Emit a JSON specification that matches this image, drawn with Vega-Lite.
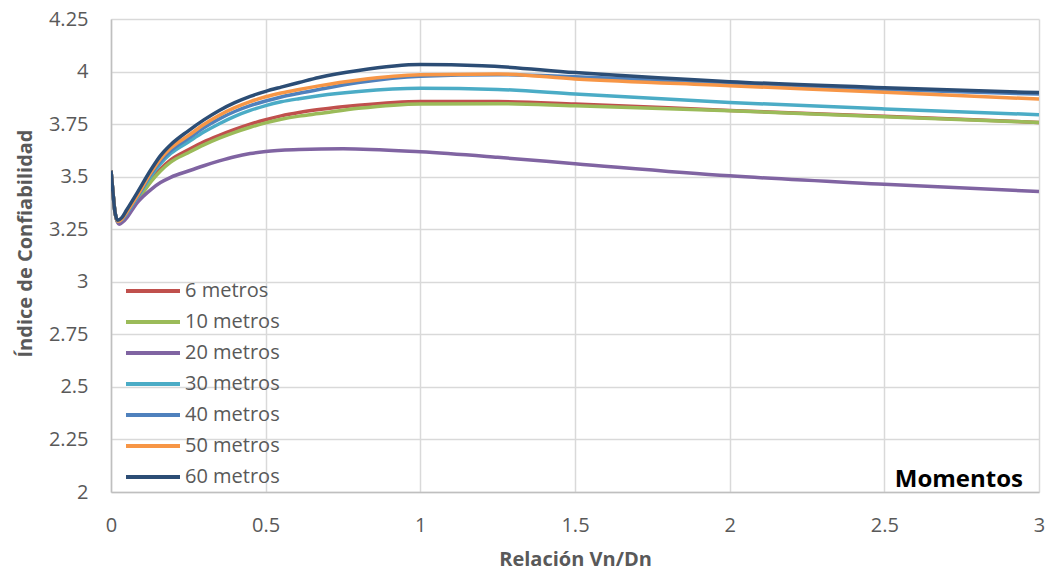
{
  "$schema": "https://vega.github.io/schema/vega-lite/v6.json",
  "width": 928,
  "height": 473,
  "autosize": {"type": "none"},
  "padding": {"left": 111, "top": 19, "right": 6, "bottom": 80},
  "background": "white",
  "config": {
    "view": {"stroke": null},
    "font": "Open Sans",
    "axis": {
      "labelFont": "Open Sans", "titleFont": "Open Sans",
      "labelColor": "#595959", "titleColor": "#595959",
      "labelFontSize": 20, "titleFontSize": 20, "titleFontWeight": "bold",
      "gridColor": "#d9d9d9", "gridWidth": 1.5,
      "domainColor": "#bfbfbf", "domainWidth": 1.5,
      "ticks": false, "labelFlush": false
    }
  },
  "datasets": {
    "curvas": [
      {"x":0,"y":3.528,"serie":"6 metros"},{"x":0.006,"y":3.43,"serie":"6 metros"},{"x":0.013,"y":3.33,"serie":"6 metros"},{"x":0.022,"y":3.285,"serie":"6 metros"},{"x":0.035,"y":3.292,"serie":"6 metros"},{"x":0.05,"y":3.318,"serie":"6 metros"},{"x":0.085,"y":3.39,"serie":"6 metros"},{"x":0.13,"y":3.49,"serie":"6 metros"},{"x":0.16,"y":3.537,"serie":"6 metros"},{"x":0.193,"y":3.58,"serie":"6 metros"},{"x":0.25,"y":3.628,"serie":"6 metros"},{"x":0.3,"y":3.666,"serie":"6 metros"},{"x":0.35,"y":3.697,"serie":"6 metros"},{"x":0.4,"y":3.725,"serie":"6 metros"},{"x":0.45,"y":3.75,"serie":"6 metros"},{"x":0.5,"y":3.771,"serie":"6 metros"},{"x":0.55,"y":3.789,"serie":"6 metros"},{"x":0.608,"y":3.805,"serie":"6 metros"},{"x":0.672,"y":3.819,"serie":"6 metros"},{"x":0.8,"y":3.84,"serie":"6 metros"},{"x":1.0,"y":3.858,"serie":"6 metros"},{"x":1.25,"y":3.857,"serie":"6 metros"},{"x":1.5,"y":3.846,"serie":"6 metros"},{"x":2.0,"y":3.815,"serie":"6 metros"},{"x":2.5,"y":3.787,"serie":"6 metros"},{"x":3.0,"y":3.758,"serie":"6 metros"},
      {"x":0,"y":3.528,"serie":"10 metros"},{"x":0.006,"y":3.43,"serie":"10 metros"},{"x":0.013,"y":3.33,"serie":"10 metros"},{"x":0.022,"y":3.283,"serie":"10 metros"},{"x":0.035,"y":3.29,"serie":"10 metros"},{"x":0.05,"y":3.315,"serie":"10 metros"},{"x":0.085,"y":3.385,"serie":"10 metros"},{"x":0.13,"y":3.478,"serie":"10 metros"},{"x":0.16,"y":3.527,"serie":"10 metros"},{"x":0.193,"y":3.569,"serie":"10 metros"},{"x":0.25,"y":3.614,"serie":"10 metros"},{"x":0.3,"y":3.651,"serie":"10 metros"},{"x":0.35,"y":3.683,"serie":"10 metros"},{"x":0.4,"y":3.711,"serie":"10 metros"},{"x":0.45,"y":3.735,"serie":"10 metros"},{"x":0.5,"y":3.756,"serie":"10 metros"},{"x":0.55,"y":3.773,"serie":"10 metros"},{"x":0.608,"y":3.788,"serie":"10 metros"},{"x":0.672,"y":3.8,"serie":"10 metros"},{"x":0.8,"y":3.825,"serie":"10 metros"},{"x":1.0,"y":3.846,"serie":"10 metros"},{"x":1.25,"y":3.847,"serie":"10 metros"},{"x":1.5,"y":3.837,"serie":"10 metros"},{"x":2.0,"y":3.814,"serie":"10 metros"},{"x":2.5,"y":3.785,"serie":"10 metros"},{"x":3.0,"y":3.758,"serie":"10 metros"},
      {"x":0,"y":3.528,"serie":"20 metros"},{"x":0.006,"y":3.43,"serie":"20 metros"},{"x":0.013,"y":3.33,"serie":"20 metros"},{"x":0.026,"y":3.274,"serie":"20 metros"},{"x":0.045,"y":3.294,"serie":"20 metros"},{"x":0.085,"y":3.377,"serie":"20 metros"},{"x":0.13,"y":3.44,"serie":"20 metros"},{"x":0.16,"y":3.472,"serie":"20 metros"},{"x":0.193,"y":3.497,"serie":"20 metros"},{"x":0.25,"y":3.527,"serie":"20 metros"},{"x":0.3,"y":3.552,"serie":"20 metros"},{"x":0.35,"y":3.575,"serie":"20 metros"},{"x":0.4,"y":3.595,"serie":"20 metros"},{"x":0.45,"y":3.61,"serie":"20 metros"},{"x":0.5,"y":3.62,"serie":"20 metros"},{"x":0.608,"y":3.629,"serie":"20 metros"},{"x":0.75,"y":3.633,"serie":"20 metros"},{"x":1.0,"y":3.618,"serie":"20 metros"},{"x":1.25,"y":3.592,"serie":"20 metros"},{"x":1.5,"y":3.562,"serie":"20 metros"},{"x":2.0,"y":3.504,"serie":"20 metros"},{"x":2.5,"y":3.464,"serie":"20 metros"},{"x":3.0,"y":3.429,"serie":"20 metros"},
      {"x":0,"y":3.528,"serie":"30 metros"},{"x":0.006,"y":3.43,"serie":"30 metros"},{"x":0.013,"y":3.33,"serie":"30 metros"},{"x":0.022,"y":3.287,"serie":"30 metros"},{"x":0.035,"y":3.295,"serie":"30 metros"},{"x":0.05,"y":3.323,"serie":"30 metros"},{"x":0.085,"y":3.4,"serie":"30 metros"},{"x":0.13,"y":3.505,"serie":"30 metros"},{"x":0.16,"y":3.561,"serie":"30 metros"},{"x":0.193,"y":3.61,"serie":"30 metros"},{"x":0.25,"y":3.665,"serie":"30 metros"},{"x":0.3,"y":3.712,"serie":"30 metros"},{"x":0.35,"y":3.752,"serie":"30 metros"},{"x":0.4,"y":3.787,"serie":"30 metros"},{"x":0.45,"y":3.815,"serie":"30 metros"},{"x":0.5,"y":3.838,"serie":"30 metros"},{"x":0.55,"y":3.856,"serie":"30 metros"},{"x":0.608,"y":3.871,"serie":"30 metros"},{"x":0.672,"y":3.885,"serie":"30 metros"},{"x":0.8,"y":3.905,"serie":"30 metros"},{"x":1.0,"y":3.92,"serie":"30 metros"},{"x":1.25,"y":3.915,"serie":"30 metros"},{"x":1.5,"y":3.893,"serie":"30 metros"},{"x":2.0,"y":3.853,"serie":"30 metros"},{"x":2.5,"y":3.822,"serie":"30 metros"},{"x":3.0,"y":3.795,"serie":"30 metros"},
      {"x":0,"y":3.528,"serie":"40 metros"},{"x":0.006,"y":3.43,"serie":"40 metros"},{"x":0.013,"y":3.33,"serie":"40 metros"},{"x":0.022,"y":3.288,"serie":"40 metros"},{"x":0.035,"y":3.297,"serie":"40 metros"},{"x":0.05,"y":3.327,"serie":"40 metros"},{"x":0.085,"y":3.405,"serie":"40 metros"},{"x":0.13,"y":3.515,"serie":"40 metros"},{"x":0.16,"y":3.574,"serie":"40 metros"},{"x":0.193,"y":3.624,"serie":"40 metros"},{"x":0.25,"y":3.682,"serie":"40 metros"},{"x":0.3,"y":3.733,"serie":"40 metros"},{"x":0.35,"y":3.775,"serie":"40 metros"},{"x":0.4,"y":3.81,"serie":"40 metros"},{"x":0.45,"y":3.838,"serie":"40 metros"},{"x":0.5,"y":3.86,"serie":"40 metros"},{"x":0.55,"y":3.879,"serie":"40 metros"},{"x":0.608,"y":3.897,"serie":"40 metros"},{"x":0.672,"y":3.915,"serie":"40 metros"},{"x":0.8,"y":3.948,"serie":"40 metros"},{"x":1.0,"y":3.978,"serie":"40 metros"},{"x":1.25,"y":3.985,"serie":"40 metros"},{"x":1.5,"y":3.975,"serie":"40 metros"},{"x":2.0,"y":3.945,"serie":"40 metros"},{"x":2.5,"y":3.915,"serie":"40 metros"},{"x":3.0,"y":3.893,"serie":"40 metros"},
      {"x":0,"y":3.528,"serie":"50 metros"},{"x":0.006,"y":3.43,"serie":"50 metros"},{"x":0.013,"y":3.33,"serie":"50 metros"},{"x":0.022,"y":3.288,"serie":"50 metros"},{"x":0.035,"y":3.298,"serie":"50 metros"},{"x":0.05,"y":3.33,"serie":"50 metros"},{"x":0.085,"y":3.41,"serie":"50 metros"},{"x":0.13,"y":3.522,"serie":"50 metros"},{"x":0.16,"y":3.585,"serie":"50 metros"},{"x":0.193,"y":3.636,"serie":"50 metros"},{"x":0.25,"y":3.695,"serie":"50 metros"},{"x":0.3,"y":3.748,"serie":"50 metros"},{"x":0.35,"y":3.792,"serie":"50 metros"},{"x":0.4,"y":3.828,"serie":"50 metros"},{"x":0.45,"y":3.857,"serie":"50 metros"},{"x":0.5,"y":3.88,"serie":"50 metros"},{"x":0.55,"y":3.898,"serie":"50 metros"},{"x":0.608,"y":3.915,"serie":"50 metros"},{"x":0.672,"y":3.932,"serie":"50 metros"},{"x":0.8,"y":3.96,"serie":"50 metros"},{"x":1.0,"y":3.985,"serie":"50 metros"},{"x":1.25,"y":3.988,"serie":"50 metros"},{"x":1.5,"y":3.965,"serie":"50 metros"},{"x":2.0,"y":3.933,"serie":"50 metros"},{"x":2.5,"y":3.901,"serie":"50 metros"},{"x":3.0,"y":3.869,"serie":"50 metros"},
      {"x":0,"y":3.528,"serie":"60 metros"},{"x":0.006,"y":3.43,"serie":"60 metros"},{"x":0.013,"y":3.33,"serie":"60 metros"},{"x":0.022,"y":3.293,"serie":"60 metros"},{"x":0.035,"y":3.305,"serie":"60 metros"},{"x":0.05,"y":3.34,"serie":"60 metros"},{"x":0.085,"y":3.424,"serie":"60 metros"},{"x":0.13,"y":3.535,"serie":"60 metros"},{"x":0.16,"y":3.6,"serie":"60 metros"},{"x":0.193,"y":3.652,"serie":"60 metros"},{"x":0.25,"y":3.718,"serie":"60 metros"},{"x":0.3,"y":3.77,"serie":"60 metros"},{"x":0.35,"y":3.815,"serie":"60 metros"},{"x":0.4,"y":3.852,"serie":"60 metros"},{"x":0.45,"y":3.882,"serie":"60 metros"},{"x":0.5,"y":3.906,"serie":"60 metros"},{"x":0.55,"y":3.926,"serie":"60 metros"},{"x":0.608,"y":3.948,"serie":"60 metros"},{"x":0.672,"y":3.972,"serie":"60 metros"},{"x":0.8,"y":4.005,"serie":"60 metros"},{"x":1.0,"y":4.033,"serie":"60 metros"},{"x":1.2,"y":4.028,"serie":"60 metros"},{"x":1.5,"y":3.995,"serie":"60 metros"},{"x":2.0,"y":3.952,"serie":"60 metros"},{"x":2.5,"y":3.923,"serie":"60 metros"},{"x":3.0,"y":3.9,"serie":"60 metros"}
    ]
  },
  "layer": [
    {
      "data": {"name": "curvas"},
      "mark": {"type": "line", "interpolate": "monotone", "strokeWidth": 3.5, "clip": true},
      "encoding": {
        "x": {
          "field": "x", "type": "quantitative",
          "scale": {"domain": [0, 3], "nice": false, "zero": false},
          "axis": {"values": [0, 0.5, 1, 1.5, 2, 2.5, 3], "labelExpr": "datum.value", "title": "Relación Vn/Dn", "labelPadding": 23, "titlePadding": 14}
        },
        "y": {
          "field": "y", "type": "quantitative",
          "scale": {"domain": [2, 4.25], "nice": false, "zero": false},
          "axis": {"values": [2, 2.25, 2.5, 2.75, 3, 3.25, 3.5, 3.75, 4, 4.25], "labelExpr": "datum.value", "title": "Índice de Confiabilidad", "labelPadding": 23, "titleX": -86, "titleY": 224, "titleBaseline": "middle", "titleAngle": -90}
        },
        "color": {
          "field": "serie", "type": "nominal",
          "scale": {
            "domain": ["6 metros", "10 metros", "20 metros", "30 metros", "40 metros", "50 metros", "60 metros"],
            "range": ["#C0504D", "#9BBB59", "#8064A2", "#4BACC6", "#4F81BD", "#F79646", "#2C4D75"]
          },
          "legend": {
            "title": null, "orient": "none", "legendX": 13, "legendY": 260,
            "symbolType": "stroke", "symbolSize": 2916, "symbolStrokeWidth": 4,
            "labelFontSize": 20, "labelFont": "Open Sans", "labelColor": "#595959",
            "labelOffset": 3, "rowPadding": 7, "clipHeight": 24, "padding": 0
          }
        }
      }
    },
    {
      "data": {"values": [{}]},
      "mark": {"type": "text", "align": "right", "baseline": "alphabetic", "dx": -16, "dy": -5, "fontSize": 24, "fontWeight": "bold", "font": "Open Sans", "color": "#000000"},
      "encoding": {
        "x": {"datum": 3, "type": "quantitative"},
        "y": {"datum": 2, "type": "quantitative"},
        "text": {"value": "Momentos"}
      }
    }
  ]
}
